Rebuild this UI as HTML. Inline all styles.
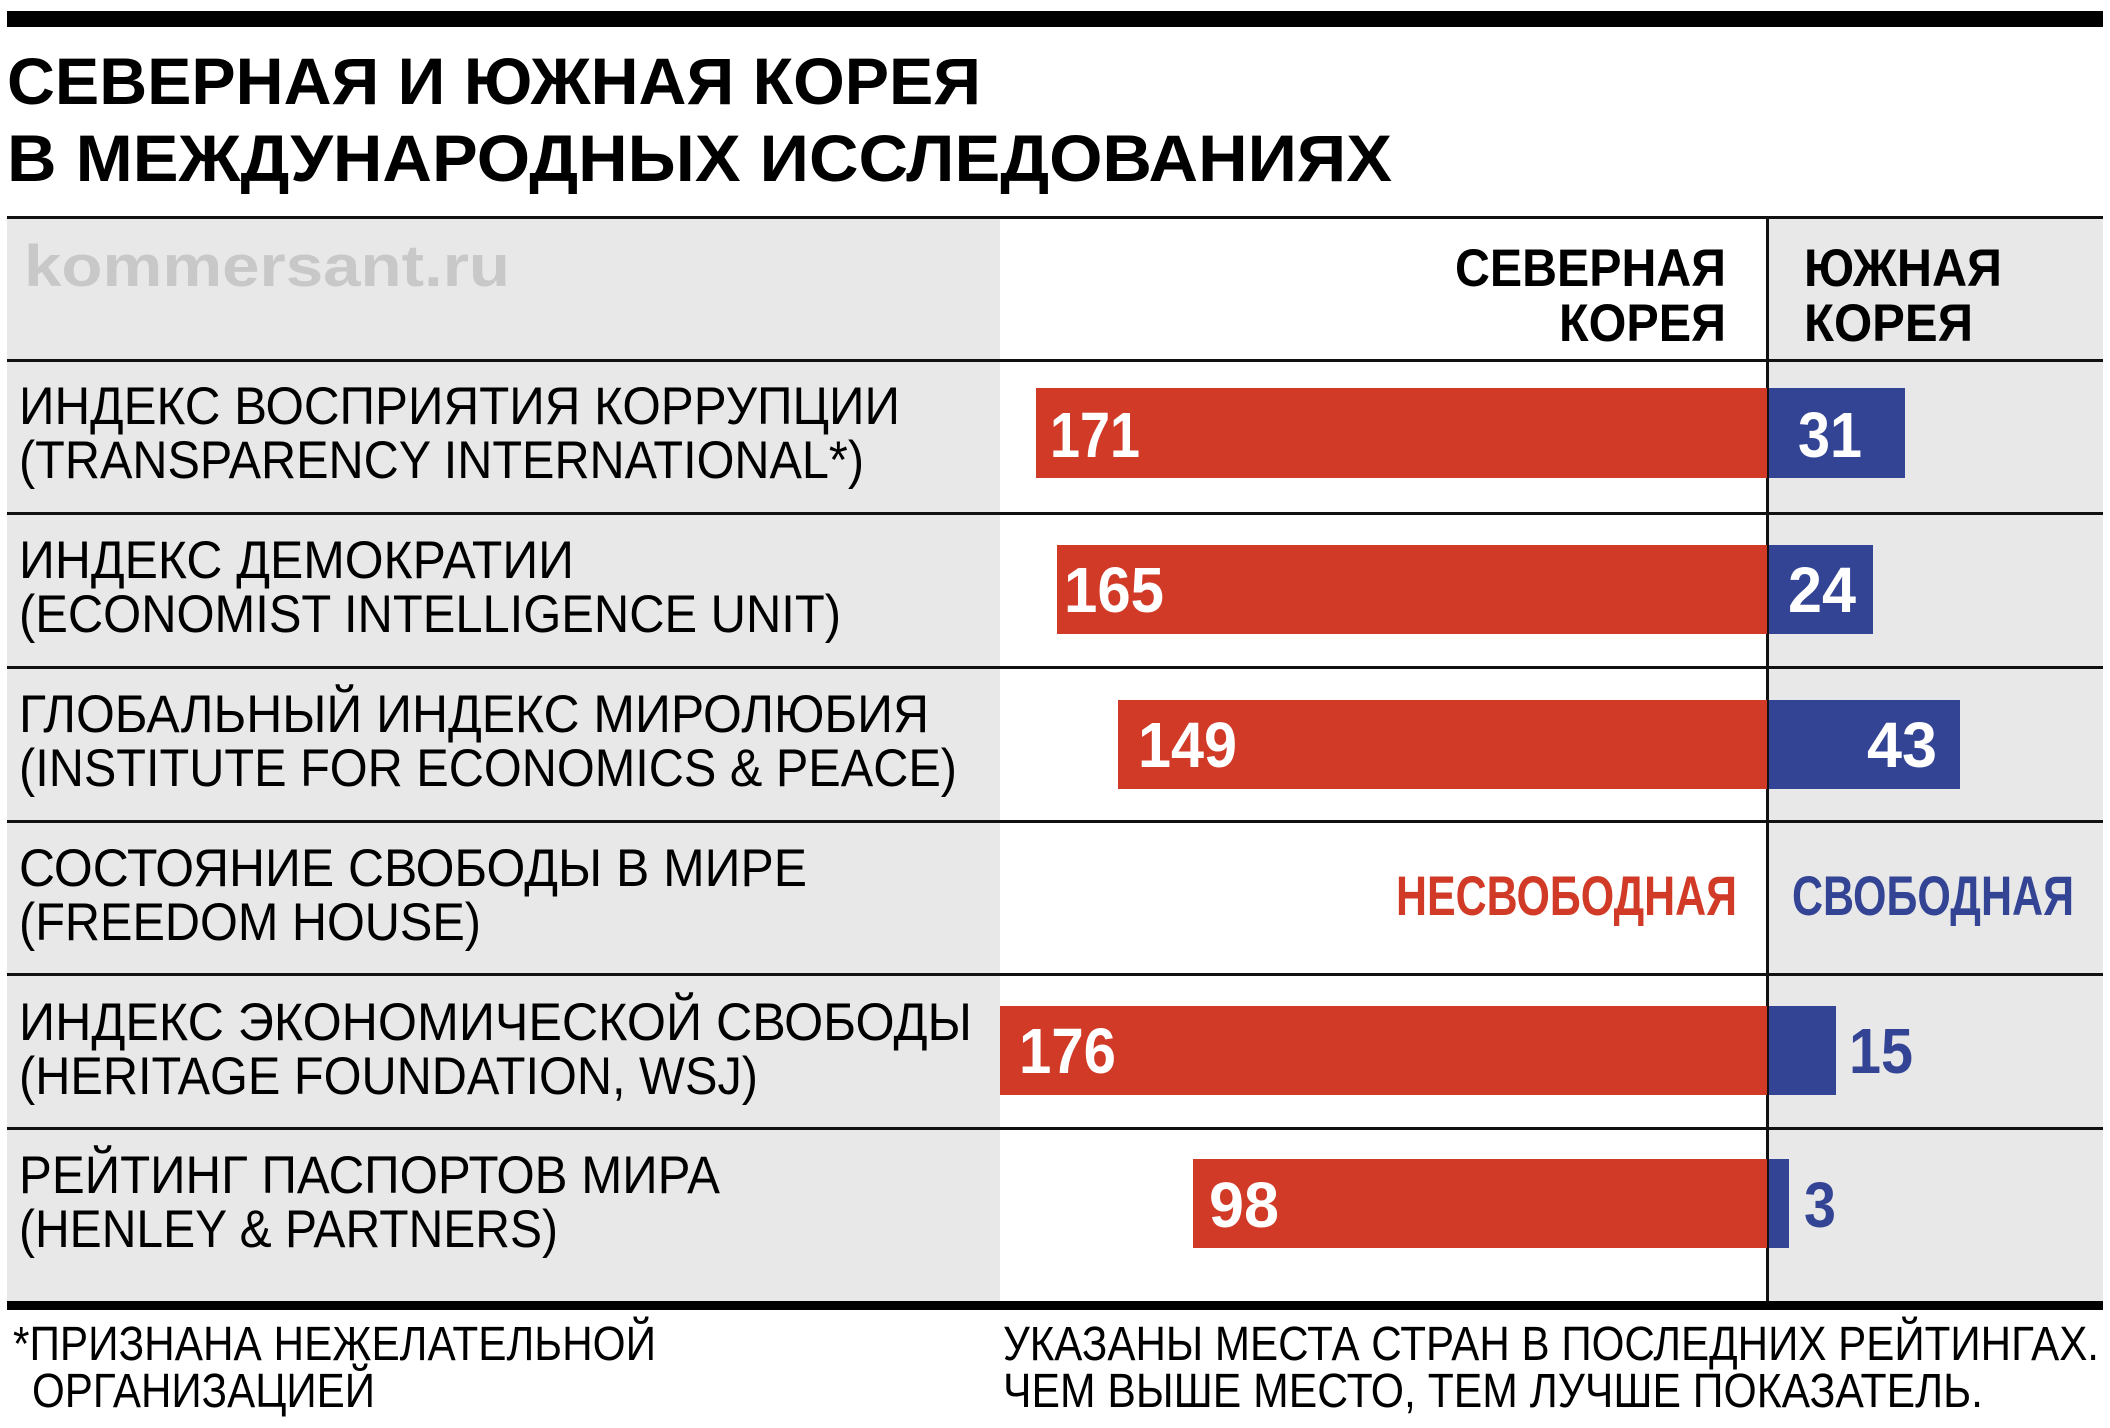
<!DOCTYPE html>
<html><head><meta charset="utf-8"><style>
html,body{margin:0;padding:0;background:#fff}
svg{display:block}
text{font-family:"Liberation Sans","DejaVu Sans",sans-serif}
</style></head><body>
<svg width="2110" height="1428" viewBox="0 0 2110 1428" xmlns="http://www.w3.org/2000/svg">
<rect x="0" y="0" width="2110" height="1428" fill="#fff"/>
<rect x="7" y="11" width="2096" height="16" fill="#000"/>
<g font-weight="bold" font-size="66" fill="#000">
<text x="7" y="104" textLength="974" lengthAdjust="spacingAndGlyphs">СЕВЕРНАЯ И ЮЖНАЯ КОРЕЯ</text>
<text x="7" y="181" textLength="1385" lengthAdjust="spacingAndGlyphs">В МЕЖДУНАРОДНЫХ ИССЛЕДОВАНИЯХ</text>
</g>
<rect x="7" y="218" width="993" height="1085" fill="#e8e8e8"/>
<rect x="1767" y="218" width="336" height="1085" fill="#e8e8e8"/>
<rect x="7" y="216" width="2096" height="3" fill="#111"/>
<g fill="#111">
<rect x="7" y="359" width="2096" height="3"/>
<rect x="7" y="512" width="2096" height="3"/>
<rect x="7" y="666" width="2096" height="3"/>
<rect x="7" y="820" width="2096" height="3"/>
<rect x="7" y="973" width="2096" height="3"/>
<rect x="7" y="1127" width="2096" height="3"/>
</g>
<rect x="1766" y="218" width="3" height="1085" fill="#111"/>
<rect x="7" y="1301" width="2096" height="9" fill="#000"/>
<text x="24" y="286" font-size="58" font-weight="bold" fill="#c8c8c8" textLength="486" lengthAdjust="spacingAndGlyphs">kommersant.ru</text>
<g font-size="53" font-weight="bold" fill="#000">
<text x="1455" y="286" textLength="271" lengthAdjust="spacingAndGlyphs">СЕВЕРНАЯ</text>
<text x="1559" y="341" textLength="167" lengthAdjust="spacingAndGlyphs">КОРЕЯ</text>
<text x="1804" y="286" textLength="198" lengthAdjust="spacingAndGlyphs">ЮЖНАЯ</text>
<text x="1804" y="341" textLength="169" lengthAdjust="spacingAndGlyphs">КОРЕЯ</text>
</g>
<g font-size="53" fill="#000">
<text x="19" y="424" textLength="881" lengthAdjust="spacingAndGlyphs">ИНДЕКС ВОСПРИЯТИЯ КОРРУПЦИИ</text>
<text x="19" y="478" textLength="845" lengthAdjust="spacingAndGlyphs">(TRANSPARENCY INTERNATIONAL*)</text>
<text x="19" y="578" textLength="555" lengthAdjust="spacingAndGlyphs">ИНДЕКС ДЕМОКРАТИИ</text>
<text x="19" y="632" textLength="822" lengthAdjust="spacingAndGlyphs">(ECONOMIST INTELLIGENCE UNIT)</text>
<text x="19" y="732" textLength="910" lengthAdjust="spacingAndGlyphs">ГЛОБАЛЬНЫЙ ИНДЕКС МИРОЛЮБИЯ</text>
<text x="19" y="786" textLength="938" lengthAdjust="spacingAndGlyphs">(INSTITUTE FOR ECONOMICS &amp; PEACE)</text>
<text x="19" y="886" textLength="788" lengthAdjust="spacingAndGlyphs">СОСТОЯНИЕ СВОБОДЫ В МИРЕ</text>
<text x="19" y="940" textLength="462" lengthAdjust="spacingAndGlyphs">(FREEDOM HOUSE)</text>
<text x="19" y="1040" textLength="953" lengthAdjust="spacingAndGlyphs">ИНДЕКС ЭКОНОМИЧЕСКОЙ СВОБОДЫ</text>
<text x="19" y="1094" textLength="739" lengthAdjust="spacingAndGlyphs">(HERITAGE FOUNDATION, WSJ)</text>
<text x="19" y="1193" textLength="701" lengthAdjust="spacingAndGlyphs">РЕЙТИНГ ПАСПОРТОВ МИРА</text>
<text x="19" y="1247" textLength="539" lengthAdjust="spacingAndGlyphs">(HENLEY &amp; PARTNERS)</text>
</g>
<g fill="#d03a27">
<rect x="1036" y="388" width="731" height="90"/>
<rect x="1057" y="545" width="710" height="89"/>
<rect x="1118" y="700" width="649" height="89"/>
<rect x="1000" y="1006" width="767" height="89"/>
<rect x="1193" y="1159" width="574" height="89"/>
</g>
<g fill="#334494">
<rect x="1769" y="388" width="136" height="90"/>
<rect x="1769" y="545" width="104" height="89"/>
<rect x="1769" y="700" width="191" height="89"/>
<rect x="1769" y="1006" width="67" height="89"/>
<rect x="1769" y="1159" width="20" height="89"/>
</g>
<g font-size="64" font-weight="bold" fill="#fff">
<text x="1050" y="457" textLength="90" lengthAdjust="spacingAndGlyphs">171</text>
<text x="1064" y="612" textLength="100" lengthAdjust="spacingAndGlyphs">165</text>
<text x="1138" y="767" textLength="99" lengthAdjust="spacingAndGlyphs">149</text>
<text x="1019" y="1073" textLength="97" lengthAdjust="spacingAndGlyphs">176</text>
<text x="1209" y="1227" textLength="70" lengthAdjust="spacingAndGlyphs">98</text>
<text x="1798" y="457" textLength="64" lengthAdjust="spacingAndGlyphs">31</text>
<text x="1788" y="612" textLength="68" lengthAdjust="spacingAndGlyphs">24</text>
<text x="1867" y="767" textLength="70" lengthAdjust="spacingAndGlyphs">43</text>
</g>
<g font-size="64" font-weight="bold" fill="#334494">
<text x="1849" y="1073" textLength="64" lengthAdjust="spacingAndGlyphs">15</text>
<text x="1804" y="1227" textLength="32" lengthAdjust="spacingAndGlyphs">3</text>
</g>
<text x="1396" y="915" font-size="56" font-weight="bold" fill="#d03a27" textLength="341" lengthAdjust="spacingAndGlyphs">НЕСВОБОДНАЯ</text>
<text x="1792" y="915" font-size="56" font-weight="bold" fill="#334494" textLength="282" lengthAdjust="spacingAndGlyphs">СВОБОДНАЯ</text>
<g font-size="48" fill="#000">
<text x="13" y="1360" textLength="643" lengthAdjust="spacingAndGlyphs">*ПРИЗНАНА НЕЖЕЛАТЕЛЬНОЙ</text>
<text x="32" y="1407" textLength="343" lengthAdjust="spacingAndGlyphs">ОРГАНИЗАЦИЕЙ</text>
<text x="1003" y="1360" textLength="1096" lengthAdjust="spacingAndGlyphs">УКАЗАНЫ МЕСТА СТРАН В ПОСЛЕДНИХ РЕЙТИНГАХ.</text>
<text x="1003" y="1407" textLength="980" lengthAdjust="spacingAndGlyphs">ЧЕМ ВЫШЕ МЕСТО, ТЕМ ЛУЧШЕ ПОКАЗАТЕЛЬ.</text>
</g>
</svg>
</body></html>
